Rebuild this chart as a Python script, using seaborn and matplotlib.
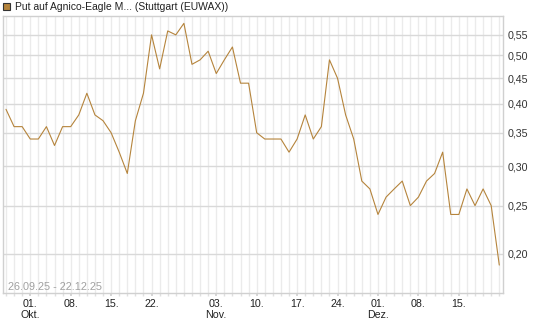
import matplotlib
matplotlib.use("Agg")
import matplotlib.pyplot as plt
import matplotlib.ticker as mticker
from matplotlib.patches import Rectangle
import seaborn as sns
import pandas as pd

# ---- data ----
start_date = "2025-09-26"
end_date = "2025-12-22"
values = [0.39, 0.36, 0.36, 0.34, 0.34, 0.36, 0.33, 0.36, 0.36, 0.38,
          0.42, 0.38, 0.37, 0.35, 0.32, 0.29, 0.37, 0.42, 0.55, 0.47,
          0.56, 0.55, 0.58, 0.48, 0.49, 0.51, 0.46, 0.49, 0.52, 0.44,
          0.44, 0.35, 0.34, 0.34, 0.34, 0.32, 0.34, 0.38, 0.34, 0.36,
          0.49, 0.45, 0.38, 0.34, 0.28, 0.27, 0.24, 0.26, 0.27, 0.28,
          0.25, 0.26, 0.28, 0.29, 0.32, 0.24, 0.24, 0.27, 0.25, 0.27,
          0.25, 0.19]
tick_dates = ["2025-10-01", "2025-10-08", "2025-10-15", "2025-10-22",
              "2025-11-03", "2025-11-10", "2025-11-17", "2025-11-24",
              "2025-12-01", "2025-12-08", "2025-12-15"]
tick_labels = ["01.\nOkt.", "08.", "15.", "22.", "03.\nNov.", "10.", "17.", "24.",
               "01.\nDez.", "08.", "15."]
y_ticks = [0.20, 0.25, 0.30, 0.35, 0.40, 0.45, 0.50, 0.55]
title = "Put auf Agnico-Eagle M... (Stuttgart (EUWAX))"
range_text = "26.09.25 - 22.12.25"

dates = pd.bdate_range(start_date, end_date)
df = pd.DataFrame({"date": dates, "idx": range(len(dates)), "value": values})
date_to_idx = {d.strftime("%Y-%m-%d"): i for i, d in enumerate(dates)}
tick_pos = [date_to_idx[d] for d in tick_dates]

sns.set_theme(style="white")
plt.rcParams["font.family"] = ["Liberation Sans", "DejaVu Sans"]

W, H = 545, 327
fig = plt.figure(figsize=(W / 100, H / 100), dpi=100)
ax = fig.add_axes([3 / W, 1 - 293 / H, 500 / W, 277 / H])

line_color = "#B5843C"
sns.lineplot(data=df, x="idx", y="value", ax=ax, color=line_color, linewidth=0.8)

ax.set_yscale("log")
ax.set_ylim(0.167, 0.600)
ax.set_xlim(-0.37, 61.46)

ax.yaxis.tick_right()
ax.yaxis.set_major_locator(mticker.FixedLocator(y_ticks))
ax.yaxis.set_minor_locator(mticker.NullLocator())
ax.yaxis.set_major_formatter(mticker.FuncFormatter(lambda v, p: f"{v:.2f}".replace(".", ",")))

ax.set_xticks(tick_pos)
ax.set_xticklabels(tick_labels)
ax.xaxis.set_minor_locator(mticker.FixedLocator(list(range(len(dates)))))

ax.set_xlabel("")
ax.set_ylabel("")

# grid
for i in range(len(dates)):
    ax.axvline(i, color="#ebebeb", lw=1.0, zorder=0)
for t in y_ticks:
    ax.axhline(t, color="#d9d9d9", lw=1.0, zorder=0.5)
ax.grid(False)

for s in ax.spines.values():
    s.set_color("#d0d0d0")
    s.set_linewidth(1.0)

fs = 7.7
ax.tick_params(axis="y", which="major", length=0, pad=3, labelsize=fs, labelcolor="#333333")
ax.tick_params(axis="x", which="major", length=2, color="#d0d0d0", pad=2, labelsize=fs,
               labelcolor="#222222", bottom=True)
ax.tick_params(axis="x", which="minor", length=2, color="#e0e0e0", bottom=True)
for lbl in ax.get_xticklabels():
    lbl.set_linespacing(1.15)
    lbl.set_verticalalignment("top")

ax.text(5 / 500, 1 - (287 - 16) / 277, range_text, transform=ax.transAxes,
        fontsize=7.8, color="#a0a0a0", va="center", ha="left")

# legend-like header
fig.patches.append(Rectangle((3 / W, 1 - 10 / H), 7 / W, 7 / H, transform=fig.transFigure,
                             facecolor=line_color, edgecolor="#333333", lw=0.8))
fig.text(15 / W, 1 - 6.5 / H, title, fontsize=7.5, color="#222222", va="center", ha="left")

fig.savefig("out.png", dpi=100)
